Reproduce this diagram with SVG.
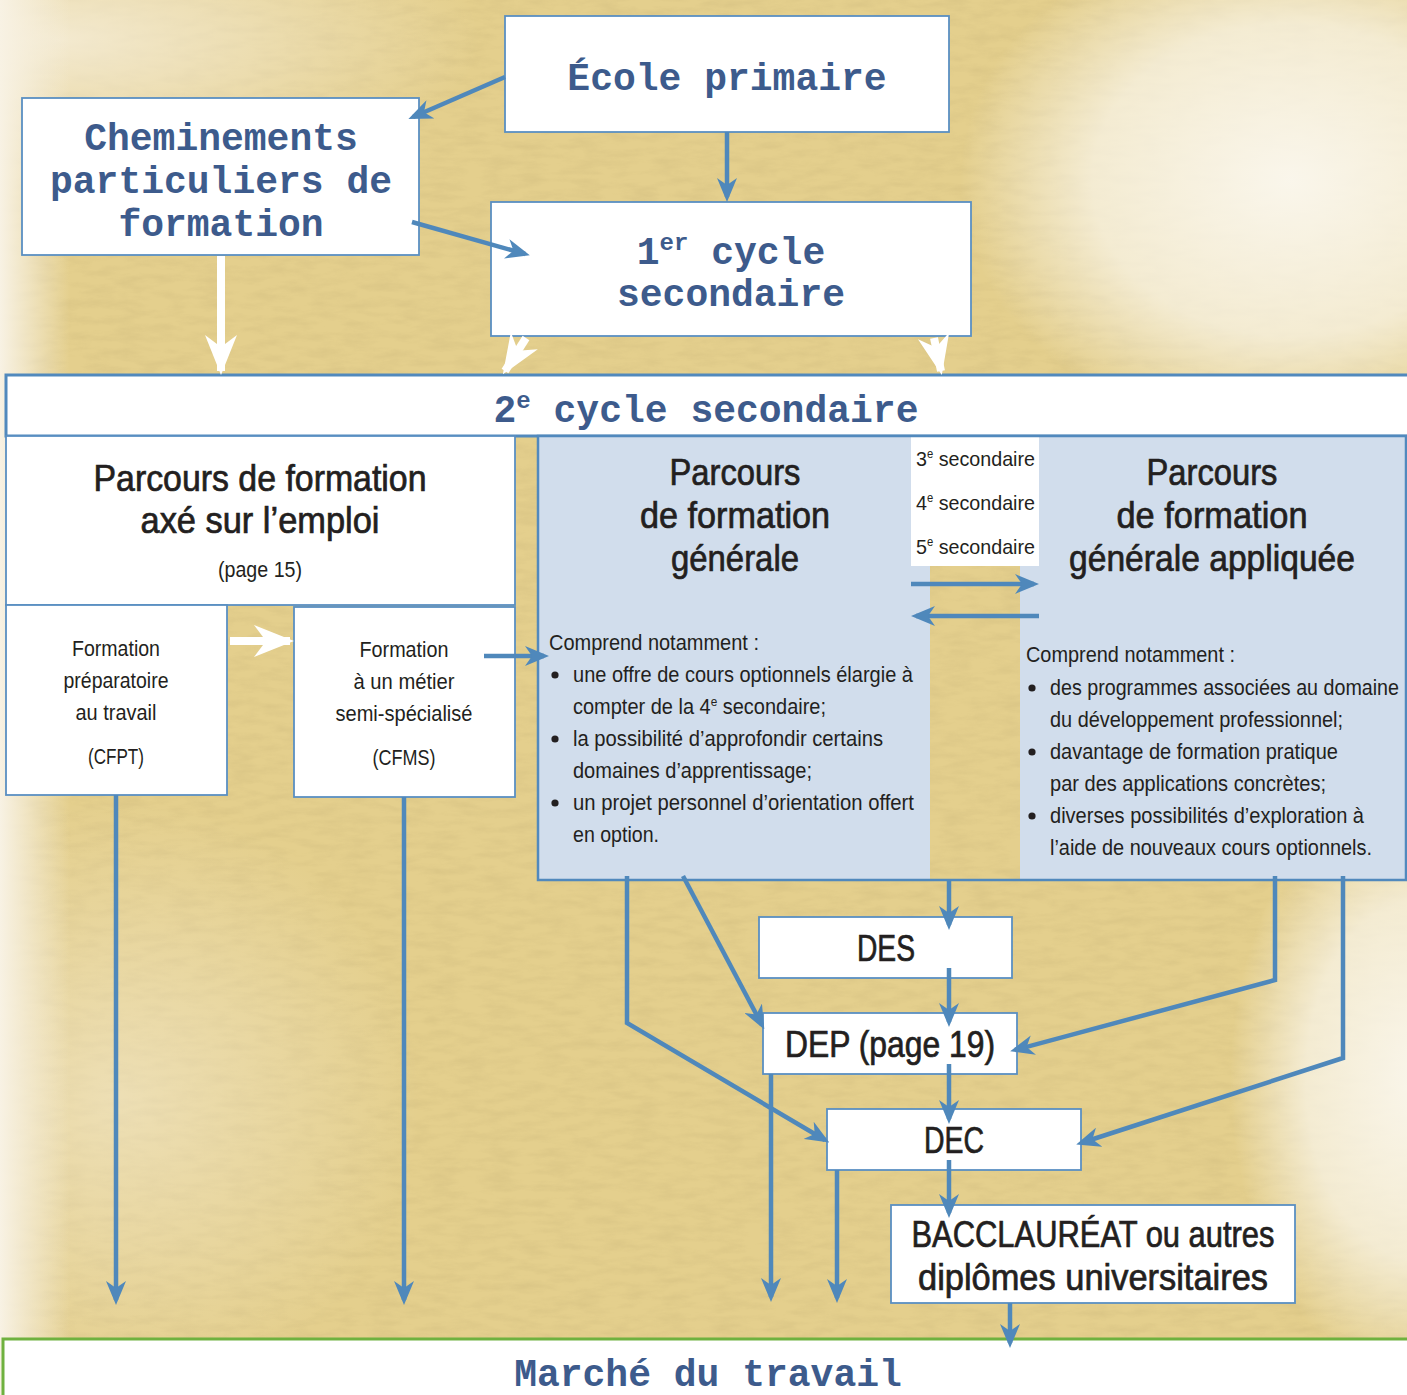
<svg xmlns="http://www.w3.org/2000/svg" width="1407" height="1395" viewBox="0 0 1407 1395">
<defs>
<style>
.box{fill:#fff;stroke:#5a8fc2;stroke-width:1.8}
.tw{font-family:"Liberation Mono","DejaVu Sans Mono",monospace;font-weight:bold;fill:#3d5b8c;font-size:38px;text-anchor:middle}
.sn{font-family:"Liberation Sans Narrow","Liberation Sans",Arial,sans-serif;fill:#231f20}
.hd{font-size:36px;text-anchor:middle;stroke:#231f20;stroke-width:0.7}
.sm{font-size:22px}
.ct{text-anchor:middle}
.cn{fill:none;stroke:#4f88bb;stroke-width:4.5;marker-end:url(#ab)}
.wn{fill:none;stroke:#fff;stroke-width:8;marker-end:url(#aw)}
</style>
<marker id="ab" viewBox="0 0 24 20" refX="19" refY="10" markerWidth="24" markerHeight="20" markerUnits="userSpaceOnUse" orient="auto"><path d="M0,0 L24,10 L0,20 L7,10 z" fill="#4f88bb"/></marker>
<marker id="aw" viewBox="0 0 40 32" refX="36" refY="16" markerWidth="40" markerHeight="32" markerUnits="userSpaceOnUse" orient="auto"><path d="M0,0 L40,16 L0,32 L12,16 z" fill="#fff"/></marker>
<filter id="tex" x="0" y="0" width="100%" height="100%">
<feTurbulence type="fractalNoise" baseFrequency="0.035 0.12" numOctaves="4" seed="11"/>
<feColorMatrix type="matrix" values="0 0 0 0 0.55  0 0 0 0 0.43  0 0 0 0 0.18  1.6 0 0 0 -0.6"/>
</filter>
<linearGradient id="lft" x1="0" y1="0" x2="1" y2="0">
<stop offset="0" stop-color="#f8f2e4" stop-opacity="1"/>
<stop offset="1" stop-color="#f8f2e4" stop-opacity="0"/>
</linearGradient>
<radialGradient id="wtr" cx="0.5" cy="0.5" r="0.5">
<stop offset="0" stop-color="#fbf8f0" stop-opacity="0.95"/>
<stop offset="0.6" stop-color="#fbf8f0" stop-opacity="0.7"/>
<stop offset="1" stop-color="#fbf8f0" stop-opacity="0"/>
</radialGradient>
<radialGradient id="wtl" cx="0.5" cy="0.5" r="0.5">
<stop offset="0" stop-color="#f6eedb" stop-opacity="0.85"/>
<stop offset="1" stop-color="#f6eedb" stop-opacity="0"/>
</radialGradient>
</defs>

<g id="background">
<rect width="1407" height="1395" fill="#e4cf8d"/>
<rect width="1407" height="1395" filter="url(#tex)" opacity="0.3"/>
<ellipse cx="60" cy="40" rx="420" ry="160" fill="url(#wtl)"/>
<ellipse cx="120" cy="1100" rx="300" ry="300" fill="url(#wtl)" opacity="0.6"/>
<ellipse cx="1290" cy="180" rx="330" ry="260" fill="url(#wtr)"/>
<ellipse cx="1420" cy="1080" rx="190" ry="300" fill="url(#wtr)"/>
<rect x="0" y="0" width="70" height="1395" fill="url(#lft)"/>
</g>

<g id="ecole-primaire">
<rect class="box" x="505" y="16" width="444" height="116"/>
<text class="tw" x="727" y="90">École primaire</text>
</g>

<g id="cheminements">
<rect class="box" x="22" y="98" width="397" height="157"/>
<text class="tw" x="221" y="150">Cheminements</text>
<text class="tw" x="221" y="193">particuliers de</text>
<text class="tw" x="221" y="236">formation</text>
</g>

<g id="premier-cycle">
<rect class="box" x="491" y="202" width="480" height="134"/>
<text class="tw" x="731" y="264">1<tspan font-size="24" dy="-14">er</tspan><tspan dy="14"> cycle</tspan></text>
<text class="tw" x="731" y="306">secondaire</text>
</g>

<g id="deuxieme-cycle">
<rect x="6" y="375" width="1420" height="61" fill="#fff" stroke="#5189bd" stroke-width="3"/>
<text class="tw" x="706" y="422">2<tspan font-size="24" dy="-14">e</tspan><tspan dy="14"> cycle secondaire</tspan></text>
</g>

<g id="parcours-emploi">
<rect class="box" x="6" y="436" width="509" height="169"/>
<text class="sn hd" x="260" y="491" textLength="333" lengthAdjust="spacingAndGlyphs">Parcours de formation</text>
<text class="sn hd" x="260" y="533" textLength="239" lengthAdjust="spacingAndGlyphs">axé sur l’emploi</text>
<text class="sn sm ct" x="260" y="577" textLength="84" lengthAdjust="spacingAndGlyphs">(page 15)</text>
</g>

<g id="cfpt">
<rect class="box" x="6" y="605" width="221" height="190"/>
<text class="sn sm ct" x="116" y="656" textLength="88" lengthAdjust="spacingAndGlyphs">Formation</text>
<text class="sn sm ct" x="116" y="688" textLength="105" lengthAdjust="spacingAndGlyphs">préparatoire</text>
<text class="sn sm ct" x="116" y="720" textLength="81" lengthAdjust="spacingAndGlyphs">au travail</text>
<text class="sn sm ct" x="116" y="764" textLength="56" lengthAdjust="spacingAndGlyphs">(CFPT)</text>
</g>

<g id="cfms">
<rect class="box" x="294" y="607" width="221" height="190"/>
<text class="sn sm ct" x="404" y="657" textLength="89" lengthAdjust="spacingAndGlyphs">Formation</text>
<text class="sn sm ct" x="404" y="689" textLength="101" lengthAdjust="spacingAndGlyphs">à un métier</text>
<text class="sn sm ct" x="404" y="721" textLength="137" lengthAdjust="spacingAndGlyphs">semi-spécialisé</text>
<text class="sn sm ct" x="404" y="765" textLength="63" lengthAdjust="spacingAndGlyphs">(CFMS)</text>
</g>

<g id="parcours-general">
<rect x="538" y="436" width="392" height="444" fill="#d1ddec"/>
<text class="sn hd" x="735" y="485" textLength="131" lengthAdjust="spacingAndGlyphs">Parcours</text>
<text class="sn hd" x="735" y="528" textLength="190" lengthAdjust="spacingAndGlyphs">de formation</text>
<text class="sn hd" x="735" y="571" textLength="128" lengthAdjust="spacingAndGlyphs">générale</text>
<text class="sn sm" x="549" y="650" textLength="210" lengthAdjust="spacingAndGlyphs">Comprend notamment :</text>
<circle cx="555" cy="675" r="3.6" fill="#231f20"/>
<circle cx="555" cy="739" r="3.6" fill="#231f20"/>
<circle cx="555" cy="803" r="3.6" fill="#231f20"/>
<text class="sn sm" x="573" y="682" textLength="340" lengthAdjust="spacingAndGlyphs">une offre de cours optionnels élargie à</text>
<text class="sn sm" x="573" y="714" textLength="253" lengthAdjust="spacingAndGlyphs">compter de la 4<tspan font-size="13" dy="-8">e</tspan><tspan dy="8"> secondaire;</tspan></text>
<text class="sn sm" x="573" y="746" textLength="310" lengthAdjust="spacingAndGlyphs">la possibilité d’approfondir certains</text>
<text class="sn sm" x="573" y="778" textLength="239" lengthAdjust="spacingAndGlyphs">domaines d’apprentissage;</text>
<text class="sn sm" x="573" y="810" textLength="341" lengthAdjust="spacingAndGlyphs">un projet personnel d’orientation offert</text>
<text class="sn sm" x="573" y="842" textLength="86" lengthAdjust="spacingAndGlyphs">en option.</text>
</g>

<g id="parcours-applique">
<rect x="1020" y="436" width="386" height="444" fill="#d1ddec"/>
<text class="sn hd" x="1212" y="485" textLength="131" lengthAdjust="spacingAndGlyphs">Parcours</text>
<text class="sn hd" x="1212" y="528" textLength="191" lengthAdjust="spacingAndGlyphs">de formation</text>
<text class="sn hd" x="1212" y="571" textLength="286" lengthAdjust="spacingAndGlyphs">générale appliquée</text>
<text class="sn sm" x="1026" y="662" textLength="209" lengthAdjust="spacingAndGlyphs">Comprend notamment :</text>
<circle cx="1032" cy="688" r="3.6" fill="#231f20"/>
<circle cx="1032" cy="752" r="3.6" fill="#231f20"/>
<circle cx="1032" cy="816" r="3.6" fill="#231f20"/>
<text class="sn sm" x="1050" y="695" textLength="349" lengthAdjust="spacingAndGlyphs">des programmes associées au domaine</text>
<text class="sn sm" x="1050" y="727" textLength="293" lengthAdjust="spacingAndGlyphs">du développement professionnel;</text>
<text class="sn sm" x="1050" y="759" textLength="288" lengthAdjust="spacingAndGlyphs">davantage de formation pratique</text>
<text class="sn sm" x="1050" y="791" textLength="276" lengthAdjust="spacingAndGlyphs">par des applications concrètes;</text>
<text class="sn sm" x="1050" y="823" textLength="314" lengthAdjust="spacingAndGlyphs">diverses possibilités d’exploration à</text>
<text class="sn sm" x="1050" y="855" textLength="322" lengthAdjust="spacingAndGlyphs">l’aide de nouveaux cours optionnels.</text>
</g>

<g id="secondaire-niveaux">
<rect x="911" y="437" width="128" height="129" fill="#fff"/>
<text class="sn" font-size="21" x="916" y="466" textLength="119" lengthAdjust="spacingAndGlyphs">3<tspan font-size="12" dy="-8">e</tspan><tspan dy="8"> secondaire</tspan></text>
<text class="sn" font-size="21" x="916" y="510" textLength="119" lengthAdjust="spacingAndGlyphs">4<tspan font-size="12" dy="-8">e</tspan><tspan dy="8"> secondaire</tspan></text>
<text class="sn" font-size="21" x="916" y="554" textLength="119" lengthAdjust="spacingAndGlyphs">5<tspan font-size="12" dy="-8">e</tspan><tspan dy="8"> secondaire</tspan></text>
<rect x="538" y="436" width="868" height="444" fill="none" stroke="#5189bd" stroke-width="2.5"/>
</g>

<g id="des">
<rect class="box" x="759" y="917" width="253" height="61" stroke-width="2.5"/>
<text class="sn hd" x="886" y="961" textLength="58" lengthAdjust="spacingAndGlyphs">DES</text>
</g>

<g id="dep">
<rect class="box" x="763" y="1013" width="254" height="61" stroke-width="2.5"/>
<text class="sn hd" x="890" y="1057" textLength="210" lengthAdjust="spacingAndGlyphs">DEP (page 19)</text>
</g>

<g id="dec">
<rect class="box" x="827" y="1109" width="254" height="61" stroke-width="2.5"/>
<text class="sn hd" x="954" y="1153" textLength="60" lengthAdjust="spacingAndGlyphs">DEC</text>
</g>

<g id="baccalaureat">
<rect class="box" x="891" y="1205" width="404" height="98" stroke-width="2.5"/>
<text class="sn hd" x="1093" y="1247" textLength="363" lengthAdjust="spacingAndGlyphs">BACCLAURÉAT ou autres</text>
<text class="sn hd" x="1093" y="1290" textLength="350" lengthAdjust="spacingAndGlyphs">diplômes universitaires</text>
</g>

<g id="marche-travail">
<rect x="3" y="1339" width="1420" height="80" fill="#fff" stroke="#6fb13f" stroke-width="3"/>
<text class="tw" x="708" y="1386">Marché du travail</text>
</g>

<g id="connectors">
<path class="cn" d="M505,77 L413,117"/>
<path class="cn" d="M727,132 L727,197"/>
<path class="cn" d="M412,222 L525,254"/>
<path class="wn" d="M221,256 L221,371"/>
<path class="wn" d="M526,338 L505,371"/>
<path class="wn" d="M934,338 L941,371"/>
<path class="wn" d="M230,641 L290,641"/>
<path class="cn" d="M484,656 L544,656"/>
<path class="cn" d="M911,584 L1034,584"/>
<path class="cn" d="M1039,616 L916,616"/>
<path class="cn" d="M116,795 L116,1300"/>
<path class="cn" d="M404,797 L404,1300"/>
<path class="cn" d="M627,876 L627,1023 L825,1140"/>
<path class="cn" d="M683,876 L762,1025"/>
<path class="cn" d="M949,880 L949,925"/>
<path class="cn" d="M949,968 L949,1022"/>
<path class="cn" d="M949,1064 L949,1119"/>
<path class="cn" d="M949,1160 L949,1213"/>
<path class="cn" d="M771,1074 L771,1297"/>
<path class="cn" d="M837,1170 L837,1298"/>
<path class="cn" d="M1010,1303 L1010,1343"/>
<path class="cn" d="M1275,876 L1275,980 L1015,1050"/>
<path class="cn" d="M1343,876 L1343,1058 L1081,1143"/>
</g>
</svg>
